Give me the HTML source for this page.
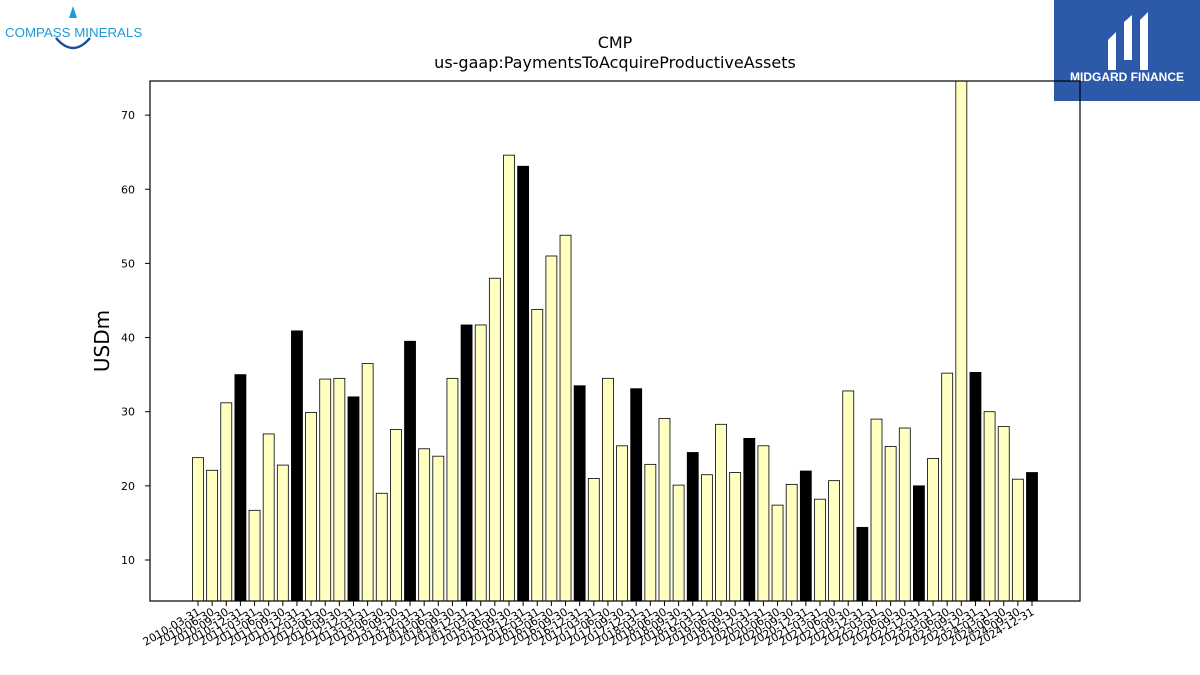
<!DOCTYPE html>
<html><head><meta charset="utf-8"><style>
body{margin:0;background:#fff;font-family:"DejaVu Sans","Liberation Sans",sans-serif;}
</style></head><body>
<svg id="c" width="1200" height="675" xmlns="http://www.w3.org/2000/svg" style="display:block" font-family="DejaVu Sans, Liberation Sans, sans-serif">
<defs><clipPath id="pc"><rect x="150" y="81" width="930" height="520"/></clipPath></defs>
<g>
<text x="5" y="37" font-size="13.3" fill="#1e9ad6" font-family="Liberation Sans, sans-serif">COMPASS MINERALS</text>
<path d="M56 38 Q73 58 90 38" stroke="#1a4f8f" stroke-width="2.5" fill="none"/>
<path d="M73 6 L77 18 L69 18 Z" fill="#1e9ad6"/>
</g>
<g>
<rect x="1054" y="0" width="146" height="101" fill="#2c5aa9"/>
<path d="M1108 70 L1108 40 L1116 32 L1116 70 Z M1124 60 L1124 22 L1132 15 L1132 60 Z M1140 70 L1140 20 L1148 12 L1148 70 Z" fill="#fff"/>
<text x="1127" y="81" font-size="12" font-weight="bold" fill="#fff" text-anchor="middle" font-family="Liberation Sans, sans-serif">MIDGARD FINANCE</text>
</g>
<text x="615" y="48" font-size="16" text-anchor="middle">CMP</text>
<text x="615" y="68" font-size="16" text-anchor="middle">us-gaap:PaymentsToAcquireProductiveAssets</text>
<text x="109" y="341" font-size="20" text-anchor="middle" transform="rotate(-90 109 341)">USDm</text>
<g id="bars" clip-path="url(#pc)"></g>
<g id="axes"></g>
<rect x="150" y="81" width="930" height="520" fill="none" stroke="#000" stroke-width="1.2"/>
</svg>
<script>
const categories=[];
for(let yr=2010;yr<=2024;yr++){for(const q of ["03-31","06-30","09-30","12-31"])categories.push(yr+"-"+q);}
const values=[23.8,22.1,31.2,35,16.7,27,22.8,40.9,29.9,34.4,34.5,32,36.5,19,27.6,39.5,25,24,34.5,41.7,41.7,48,64.6,63.1,43.8,51,53.8,33.5,21,34.5,25.4,33.1,22.9,29.1,20.1,24.5,21.5,28.3,21.8,26.4,25.4,17.4,20.2,22,18.2,20.7,32.8,14.4,29,25.3,27.8,20,23.7,35.2,78,35.3,30,28,20.9,21.8];
const yTicks=[10,20,30,40,50,60,70];
const NS="http://www.w3.org/2000/svg";
const yMin=4.47,yMax=74.6,plotTop=81,plotBot=601;
const yS=v=>plotBot-(v-yMin)/(yMax-yMin)*(plotBot-plotTop);
const xS=i=>198+i*(1032-198)/(categories.length-1);
const bars=document.getElementById('bars'),axes=document.getElementById('axes');
function mk(t,a,p){const e=document.createElementNS(NS,t);for(const k in a)e.setAttribute(k,a[k]);p.appendChild(e);return e;}
values.forEach((v,i)=>{
 const r=mk('rect',{x:xS(i)-5.5,y:yS(v),width:11,height:plotBot-yS(v),fill:(i%4==3)?'#000':'#ffffc0',stroke:'#000','stroke-width':0.8},bars);
 
 
});
yTicks.forEach(t=>{
 const l=mk('line',{x1:145,x2:150,y1:yS(t),y2:yS(t),stroke:'#000'},axes);
 
 
 const tx=mk('text',{x:135,y:yS(t)+4,'font-size':11,'text-anchor':'end'},axes);
 tx.textContent=t;
 
 
});
categories.forEach((c,i)=>{
 const l=mk('line',{x1:xS(i),x2:xS(i),y1:601,y2:606,stroke:'#000'},axes);
 
 
 const tx=mk('text',{x:xS(i)+3,y:614,'font-size':11,'text-anchor':'end',transform:`rotate(-30 ${xS(i)+3} 614)`},axes);
 tx.textContent=c;
 
 
});
</script>
</body></html>
